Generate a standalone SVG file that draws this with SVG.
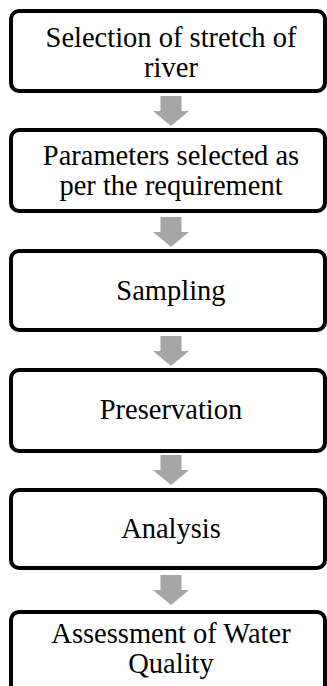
<svg xmlns="http://www.w3.org/2000/svg" width="327" height="686" viewBox="0 0 327 686">
<style>
.box{fill:#ffffff;stroke:#000000;stroke-width:4}
.t{font-family:"Liberation Serif","Times New Roman","DejaVu Serif",serif;font-size:28.5px;fill:#000000;text-anchor:middle}
.arr{fill:#a6a6a6;stroke:none}
</style>
<defs>
<path id="ar" d="M-10.5,0 H10.5 V15 H18 L0,30 L-18,15 H-10.5 Z"/>
</defs>
<rect width="327" height="686" fill="#ffffff"/>
<g id="connectors">
<use href="#ar" class="arr" x="171" y="96"/>
<use href="#ar" class="arr" x="171" y="217"/>
<use href="#ar" class="arr" x="171" y="336"/>
<use href="#ar" class="arr" x="171" y="455"/>
<use href="#ar" class="arr" x="171" y="575"/>
</g>
<g id="n1">
<rect class="box" x="11" y="11" width="314" height="80" rx="8"/>
<text class="t" x="171" y="47">Selection of stretch of</text>
<text class="t" x="171" y="76.5">river</text>
</g>
<g id="n2">
<rect class="box" x="11" y="130" width="314" height="81" rx="8"/>
<text class="t" x="171" y="165">Parameters selected as</text>
<text class="t" x="171" y="194.5">per the requirement</text>
</g>
<g id="n3">
<rect class="box" x="11" y="251" width="314" height="79" rx="8"/>
<text class="t" x="171" y="300">Sampling</text>
</g>
<g id="n4">
<rect class="box" x="11" y="370" width="314" height="81" rx="8"/>
<text class="t" x="171" y="419">Preservation</text>
</g>
<g id="n5">
<rect class="box" x="11" y="490" width="314" height="78" rx="8"/>
<text class="t" x="171" y="538">Analysis</text>
</g>
<g id="n6">
<rect class="box" x="11" y="612" width="314" height="82" rx="8"/>
<text class="t" x="171" y="643">Assessment of Water</text>
<text class="t" x="171" y="672.5">Quality</text>
</g>
</svg>
